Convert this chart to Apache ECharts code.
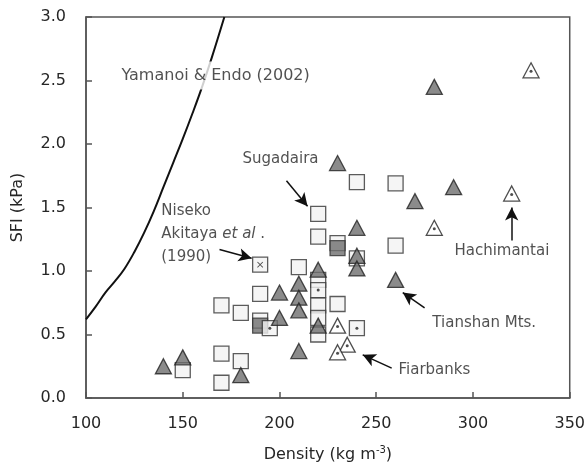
<!DOCTYPE html>
<html><head><meta charset="utf-8">
<script src="https://cdn.jsdelivr.net/npm/echarts@6/dist/echarts.min.js"></script>
<style>html,body{margin:0;padding:0;background:#fff}#c{width:588px;height:474px}</style>
</head><body><div id="c"></div>
<script>
// Density (kg m^-3), SFI (kPa)
const openSquares = [[150,0.22],[170,0.35],[170,0.12],[180,0.29],[170,0.73],[180,0.67],[190,0.82],[190,0.61],
  [210,1.03],[220,1.45],[220,1.27],[220,0.93],[220,0.73],[220,0.63],[220,0.50],[230,0.74],[230,1.22],
  [240,1.70],[240,1.10],[260,1.69],[260,1.20]];
const greySquares = [[190,0.57],[230,1.18]];
const crossSquares = [[190,1.05]];
const dotSquares = [[195,0.55],[220,0.85],[240,0.55]];
const greyTriangles = [[140,0.25],[150,0.32],[180,0.18],[200,0.83],[200,0.63],[210,0.90],[210,0.79],[210,0.69],
  [210,0.37],[220,1.01],[220,0.57],[230,1.85],[240,1.34],[240,1.12],[240,1.02],[260,0.93],[270,1.55],[280,2.45],[290,1.66]];
const openTriangles = [[330,2.58],[320,1.61],[280,1.34],[230,0.57],[235,0.42],[230,0.36]];
const curveDensity = [100,105,110,115,120,125,130,135,140,145,150,155,160,165,171.5];
const curveSFI = [0.62,0.72,0.83,0.92,1.02,1.15,1.30,1.47,1.66,1.85,2.04,2.24,2.45,2.68,3.0];
const xTicks = [100,150,200,250,300,350];
const yTicks = [0,0.5,1,1.5,2,2.5,3];
// annotation texts [x, y, label]
const titleNote = [[117.3,2.54,'Yamanoi & Endo (2002)']];
const notes = [[180.9,1.88,'Sugadaira'],[138.9,1.47,'Niseko'],[138.9,1.29,'aki'],[138.9,1.11,'(1990)'],
  [290.4,1.16,'Hachimantai'],[279,0.59,'Tianshan Mts.'],[261.5,0.22,'Fiarbanks']];
// arrows [x0,y0,x1,y1]
const arrows = [[203.6,1.71,214.5,1.51],[169,1.17,185.6,1.10],[320,1.24,320,1.50],[275,0.71,263.7,0.83],[258,0.235,243,0.34]];

const FONT = 'DejaVu Sans';
const TXT = '#262626';
const chart = echarts.init(document.getElementById('c'));
const sqStyle = {color:'#f2f2f2', borderColor:'#333', borderWidth:1.3};
const triStyle = {color:'#6e6e6e', borderColor:'#222', borderWidth:1.3};
chart.setOption({
  animation:false,
  grid:{left:86,right:18,top:17,bottom:76,show:true,borderColor:'#555',borderWidth:1.5},
  xAxis:{type:'value',min:100,max:350,interval:50,
    name:'Density (kg m{sup|-3})',nameLocation:'middle',nameGap:47,
    nameTextStyle:{fontFamily:FONT,fontSize:16,color:TXT,rich:{sup:{fontSize:10,verticalAlign:'top',color:TXT,padding:[0,0,10,0]}}},
    axisLine:{lineStyle:{color:'#555',width:1.5}},
    axisTick:{inside:true,length:6,lineStyle:{color:'#555',width:1.5}},
    axisLabel:{fontFamily:FONT,fontSize:16,color:TXT,margin:18,formatter:v=>xTicks.includes(v)?String(v):''},
    splitLine:{show:false}},
  yAxis:{type:'value',min:0,max:3,interval:0.5,
    name:'SFI (kPa)',nameLocation:'middle',nameGap:60,
    nameTextStyle:{fontFamily:FONT,fontSize:16,color:TXT},
    axisLine:{lineStyle:{color:'#555',width:1.5}},
    axisTick:{inside:true,length:6,lineStyle:{color:'#555',width:1.5}},
    axisLabel:{fontFamily:FONT,fontSize:16,color:TXT,margin:20,formatter:v=>yTicks.includes(v)?v.toFixed(1):''},
    splitLine:{show:false}},
  series:[
    {type:'line',data:curveDensity.map((d,i)=>[d,curveSFI[i]]),smooth:0.4,showSymbol:false,lineStyle:{color:'#111',width:2},z:1},
    {type:'scatter',data:openSquares,symbol:'rect',symbolSize:15,itemStyle:sqStyle,z:2},
    {type:'scatter',data:greySquares,symbol:'rect',symbolSize:15,itemStyle:{color:'#6e6e6e',borderColor:'#333',borderWidth:1.3},z:3},
    {type:'scatter',data:crossSquares,symbol:'rect',symbolSize:15,itemStyle:sqStyle,z:3},
    {type:'scatter',data:crossSquares,symbol:'path://M0,1L1,0L5,4L9,0L10,1L6,5L10,9L9,10L5,6L1,10L0,9L4,5Z',symbolSize:6,itemStyle:{color:'#222'},z:4},
    {type:'scatter',data:dotSquares,symbol:'rect',symbolSize:15,itemStyle:sqStyle,z:3},
    {type:'scatter',data:dotSquares,symbol:'circle',symbolSize:3,itemStyle:{color:'#222'},z:4},
    {type:'scatter',data:greyTriangles,symbol:'triangle',symbolSize:[16,15],itemStyle:triStyle,z:5},
    {type:'scatter',data:openTriangles,symbol:'triangle',symbolSize:[16,15],itemStyle:{color:'#fff',borderColor:'#222',borderWidth:1.3},z:5},
    {type:'scatter',data:openTriangles,symbol:'circle',symbolSize:3,symbolOffset:[0,1],itemStyle:{color:'#222'},z:6},
    {type:'scatter',data:titleNote.map(n=>({value:[n[0],n[1]],name:n[2]})),symbolSize:0,z:10,zlevel:1,silent:true,
      label:{show:true,position:'right',distance:0,fontFamily:FONT,fontSize:16,color:TXT,
        backgroundColor:'#ffffff',padding:[6,2],formatter:p=>p.name}},
    {type:'scatter',data:notes.map(n=>({value:[n[0],n[1]],name:n[2]})),symbolSize:0,z:10,silent:true,
      label:{show:true,position:'right',distance:0,fontFamily:FONT,fontSize:15,color:TXT,
        formatter:p=>p.name==='aki'?'Akitaya {i|et al} .':p.name,
        rich:{i:{fontStyle:'italic',fontFamily:FONT,fontSize:15,color:TXT}}}},
    {type:'line',data:[],z:8,
      markLine:{silent:true,symbol:['none','arrow'],symbolSize:[10,13],animation:false,
        lineStyle:{color:'#111',width:1.5,type:'solid'},label:{show:false},
        data:arrows.map(a=>[{coord:[a[0],a[1]]},{coord:[a[2],a[3]]}])}}
  ]
});
</script></body></html>
